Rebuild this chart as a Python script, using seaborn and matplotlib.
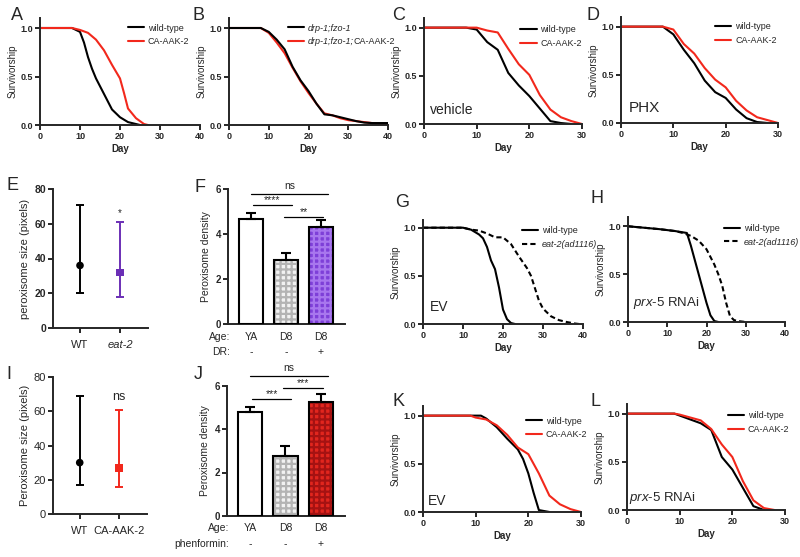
import matplotlib
matplotlib.use('Agg')
import matplotlib.pyplot as plt
import seaborn as sns

sns.set_style('ticks')
plt.rcParams['font.family'] = ['Liberation Sans', 'DejaVu Sans']
plt.rcParams['mathtext.fontset'] = 'custom'
plt.rcParams['mathtext.rm'] = 'Liberation Sans'
plt.rcParams['mathtext.it'] = 'Liberation Sans:italic'
plt.rcParams['axes.linewidth'] = 1.4
plt.rcParams['hatch.linewidth'] = 1.6

RED = '#f2281c'
PURPLE = '#6b2fb6'

# ---- survival data (day, fraction alive) ----
a_wt_day = [0, 8, 10, 11, 12, 13, 14, 16, 18, 20, 22, 24, 25]
a_wt = [1.0, 1.0, 0.96, 0.85, 0.7, 0.58, 0.48, 0.32, 0.16, 0.08, 0.03, 0.01, 0.0]
a_ca_day = [0, 8, 10, 12, 14, 16, 18, 20, 21, 22, 24, 26, 27]
a_ca = [1.0, 1.0, 0.98, 0.95, 0.88, 0.77, 0.62, 0.48, 0.33, 0.17, 0.07, 0.01, 0.0]

b_df_day = [0, 8, 10, 12, 14, 16, 18, 20, 22, 24, 26, 28, 30, 32, 34, 36, 40]
b_df = [1.0, 1.0, 0.96, 0.88, 0.78, 0.6, 0.46, 0.35, 0.22, 0.11, 0.1, 0.08, 0.06, 0.04, 0.025, 0.02, 0.02]
b_dfca_day = [0, 8, 10, 12, 14, 16, 18, 20, 22, 24, 26, 28, 30, 32, 34, 36, 38, 40]
b_dfca = [1.0, 1.0, 0.95, 0.85, 0.74, 0.59, 0.45, 0.33, 0.22, 0.12, 0.1, 0.07, 0.05, 0.04, 0.03, 0.02, 0.01, 0.005]

c_wt_day = [0, 8, 10, 12, 14, 16, 18, 20, 22, 24, 26, 28]
c_wt = [1.0, 1.0, 0.98, 0.85, 0.77, 0.53, 0.4, 0.29, 0.16, 0.03, 0.01, 0.0]
c_ca_day = [0, 10, 12, 14, 16, 18, 20, 22, 24, 26, 28, 30]
c_ca = [1.0, 1.0, 0.97, 0.95, 0.78, 0.62, 0.51, 0.3, 0.15, 0.07, 0.03, 0.0]

d_wt_day = [0, 8, 10, 12, 14, 16, 18, 20, 22, 24, 26, 28]
d_wt = [1.0, 1.0, 0.92, 0.76, 0.62, 0.44, 0.32, 0.26, 0.14, 0.05, 0.01, 0.0]
d_ca_day = [0, 8, 10, 12, 14, 16, 18, 20, 22, 24, 26, 28, 30]
d_ca = [1.0, 1.0, 0.97, 0.82, 0.72, 0.57, 0.45, 0.37, 0.23, 0.13, 0.06, 0.03, 0.0]

g_wt_day = [0, 10, 12, 14, 15, 16, 17, 18, 19, 20, 21, 22, 23]
g_wt = [1.0, 1.0, 0.98, 0.93, 0.89, 0.8, 0.66, 0.57, 0.38, 0.15, 0.05, 0.01, 0.0]
g_eat_day = [0, 10, 12, 14, 16, 18, 20, 22, 24, 26, 27, 28, 29, 30, 32, 34, 36, 38, 39]
g_eat = [1.0, 1.0, 0.98, 0.97, 0.94, 0.9, 0.9, 0.83, 0.7, 0.58, 0.5, 0.37, 0.24, 0.16, 0.08, 0.04, 0.02, 0.005, 0.0]

h_wt_day = [0, 4, 8, 12, 15, 16, 17, 18, 19, 20, 21, 22, 23]
h_wt = [1.0, 0.985, 0.97, 0.95, 0.93, 0.8, 0.65, 0.5, 0.35, 0.2, 0.07, 0.01, 0.0]
h_eat_day = [0, 4, 8, 12, 14, 16, 18, 20, 21, 22, 23, 24, 25, 26, 27, 28, 30]
h_eat = [1.0, 0.985, 0.97, 0.95, 0.93, 0.9, 0.85, 0.76, 0.68, 0.6, 0.5, 0.38, 0.2, 0.06, 0.02, 0.01, 0.0]

k_wt_day = [0, 11, 12, 14, 16, 18, 19, 20, 21, 22, 23, 24]
k_wt = [1.0, 1.0, 0.97, 0.88, 0.76, 0.65, 0.55, 0.4, 0.2, 0.02, 0.01, 0.0]
k_ca_day = [0, 9, 10, 12, 14, 16, 18, 20, 22, 24, 26, 28, 30]
k_ca = [1.0, 1.0, 0.98, 0.96, 0.9, 0.8, 0.67, 0.6, 0.4, 0.17, 0.08, 0.03, 0.0]

l_wt_day = [0, 9, 10, 12, 14, 16, 18, 20, 22, 24, 26]
l_wt = [1.0, 1.0, 0.98, 0.94, 0.9, 0.83, 0.55, 0.42, 0.23, 0.04, 0.0]
l_ca_day = [0, 9, 10, 12, 14, 16, 18, 20, 22, 24, 26, 28]
l_ca = [1.0, 1.0, 0.99, 0.96, 0.93, 0.84, 0.68, 0.55, 0.3, 0.1, 0.02, 0.0]

# ---- peroxisome size (mean with range) ----
e_groups = ['WT', 'eat-2']
e_mean = [36, 32]
e_low = [20, 18]
e_high = [71, 61]

i_groups = ['WT', 'CA-AAK-2']
i_mean = [30, 27]
i_low = [17, 16]
i_high = [69, 61]

# ---- peroxisome density bars ----
f_groups = ['YA', 'D8', 'D8 DR']
f_vals = [4.65, 2.85, 4.3]
f_err = [0.3, 0.3, 0.32]
f_age = ['YA', 'D8', 'D8']
f_treat = ['-', '-', '+']

j_groups = ['YA', 'D8', 'D8 phenformin']
j_vals = [4.78, 2.76, 5.24]
j_err = [0.22, 0.46, 0.36]
j_age = ['YA', 'D8', 'D8']
j_treat = ['-', '-', '+']

W, H = 800, 557
fig = plt.figure(figsize=(8, 5.57), dpi=100)


def make_ax(left, right, top, bottom):
    return fig.add_axes([left / W, 1 - bottom / H, (right - left) / W, (bottom - top) / H])


def style_ax(ax, size=6.5, bold=True):
    sns.despine(ax=ax)
    ax.tick_params(direction='out', length=3.5, width=1.4, labelsize=size, pad=1.5)
    if bold:
        for t in ax.get_xticklabels() + ax.get_yticklabels():
            t.set_fontweight('bold')


def survival(ax, curves, xmax, leg_xy, ymax=1.1):
    for day, surv, lab, col, ls, z in curves:
        sns.lineplot(x=day, y=surv, color=col, linestyle=ls, linewidth=1.5,
                     label=lab, ax=ax, zorder=z)
    ax.set_xlim(0, xmax)
    ax.set_ylim(0, ymax)
    ax.set_xticks(range(0, xmax + 1, 10))
    ax.set_yticks([0, 0.5, 1.0])
    ax.set_yticklabels(['0.0', '0.5', '1.0'])
    ax.set_xlabel('Day', fontsize=7, fontweight='bold', labelpad=2)
    ax.set_ylabel('Survivorship', fontsize=7, labelpad=2)
    leg = ax.legend(loc='upper left', bbox_to_anchor=leg_xy, frameon=False, fontsize=6.5,
                    handlelength=1.8, handletextpad=0.4, labelspacing=0.5,
                    borderpad=0, borderaxespad=0)
    style_ax(ax)
    return leg


def note(ax, x, y, txt, size):
    ax.text(x, y, txt, transform=ax.transAxes, fontsize=size, ha='left', va='bottom')


# A
ax = make_ax(40, 200, 18.3, 125)
survival(ax, [(a_wt_day, a_wt, 'wild-type', 'black', '-', 2),
              (a_ca_day, a_ca, 'CA-AAK-2', RED, '-', 2)], 40, (0.55, 0.95))
# B
ax = make_ax(229, 388, 18.3, 125)
leg = survival(ax, [(b_df_day, b_df, 'drp-1;fzo-1', 'black', '-', 3),
                    (b_dfca_day, b_dfca, 'drp-1;fzo-1;', RED, '-', 2)],
               40, (0.37, 0.95))
for t in leg.get_texts():
    t.set_fontstyle('italic')
ax.annotate('CA-AAK-2', xy=(1, 0), xycoords=leg.get_texts()[1], ha='left', va='bottom',
            fontsize=6.5, zorder=6)
# C
ax = make_ax(424, 582, 18, 124)
survival(ax, [(c_wt_day, c_wt, 'wild-type', 'black', '-', 2),
              (c_ca_day, c_ca, 'CA-AAK-2', RED, '-', 2)], 30, (0.61, 0.93))
note(ax, 0.04, 0.07, 'vehicle', 10)
# D
ax = make_ax(621, 778, 17, 123)
survival(ax, [(d_wt_day, d_wt, 'wild-type', 'black', '-', 2),
              (d_ca_day, d_ca, 'CA-AAK-2', RED, '-', 2)], 30, (0.6, 0.95))
note(ax, 0.05, 0.075, 'PHX', 11)
# G
ax = make_ax(423, 583, 220, 324)
leg = survival(ax, [(g_wt_day, g_wt, 'wild-type', 'black', '-', 2),
                    (g_eat_day, g_eat, 'eat-2(ad1116)', 'black', (0, (2.5, 1.5)), 2)],
               40, (0.62, 0.94), ymax=1.08)
leg.get_texts()[1].set_fontstyle('italic')
note(ax, 0.04, 0.1, 'EV', 10)
# H
ax = make_ax(628, 785, 216.7, 322)
leg = survival(ax, [(h_wt_day, h_wt, 'wild-type', 'black', '-', 2),
                    (h_eat_day, h_eat, 'eat-2(ad1116)', 'black', (0, (2.5, 1.5)), 2)],
               40, (0.61, 0.93))
leg.get_texts()[1].set_fontstyle('italic')
note(ax, 0.03, 0.1, r'$\mathit{prx}$-$\mathit{5}$ RNAi', 9.5)
# K
ax = make_ax(423, 581, 406, 512)
survival(ax, [(k_wt_day, k_wt, 'wild-type', 'black', '-', 2),
              (k_ca_day, k_ca, 'CA-AAK-2', RED, '-', 2)], 30, (0.65, 0.9))
note(ax, 0.03, 0.04, 'EV', 10)
# L
ax = make_ax(627, 785, 404, 510)
survival(ax, [(l_wt_day, l_wt, 'wild-type', 'black', '-', 2),
              (l_ca_day, l_ca, 'CA-AAK-2', RED, '-', 2)], 30, (0.64, 0.93))
note(ax, 0.01, 0.04, r'$\mathit{prx}$-$\mathit{5}$ RNAi', 9.5)


def size_panel(ax, groups, mean, low, high, colors, ylabel, tick_size, bold, star, star_y, star_size):
    n = len(groups)
    for i in range(n):
        ax.errorbar(i, mean[i], yerr=[[mean[i] - low[i]], [high[i] - mean[i]]], fmt='none',
                    ecolor=colors[i], elinewidth=1.4, capsize=3.2, capthick=1.4)
    sns.scatterplot(x=list(range(n)), y=mean, hue=groups, style=groups, palette=colors,
                    markers=['o', 's'], s=30, linewidth=0, legend=False, ax=ax, zorder=3)
    ax.text(1, star_y, star, ha='center', va='bottom', fontsize=star_size)
    ax.set_xlim(-0.675, 1.7)
    ax.set_ylim(0, 80)
    ax.set_yticks([0, 20, 40, 60, 80])
    ax.set_xticks(range(n))
    ax.set_xticklabels(groups)
    ax.set_ylabel(ylabel, fontsize=8, labelpad=3)
    style_ax(ax, tick_size, bold)
    for t in ax.get_xticklabels():
        t.set_fontsize(8)
        t.set_fontweight('normal')
    ax.tick_params(axis='x', pad=5)


# E
ax = make_ax(53, 148, 189, 328)
size_panel(ax, e_groups, e_mean, e_low, e_high, ['black', PURPLE],
           'peroxisome size (pixels)', 7.5, True, '*', 63, 7)
ax.get_xticklabels()[1].set_fontstyle('italic')
# I
ax = make_ax(53, 147, 377, 514)
size_panel(ax, i_groups, i_mean, i_low, i_high, ['black', RED],
           'Peroxisome size (pixels)', 8, False, 'ns', 65, 9)


def bar_panel(ax, groups, vals, errs, faces, hatches, age, treat, treat_name, row_y, sigs, top, bottom):
    n = len(groups)
    sns.barplot(x=groups, y=vals, hue=groups, palette=faces, width=0.69, saturation=1,
                legend=False, ax=ax, linewidth=0, errorbar=None)
    for patch, hc in zip(ax.patches, hatches):
        if hc:
            patch.set_hatch('+++')
            patch.set_edgecolor(hc)
    ax.errorbar(range(n), vals, yerr=[[0] * n, errs], fmt='none', ecolor='black',
                elinewidth=1.5, capsize=3.8, capthick=1.5, zorder=2.5)
    ax.bar(range(n), vals, width=0.69, fill=False, edgecolor='black', linewidth=1.5, zorder=3)
    for x0, x1, y, txt, off in sigs:
        ax.plot([x0, x1], [y, y], color='black', lw=0.9, clip_on=False)
        ax.text((x0 + x1) / 2, y + off, txt, ha='center', va='bottom', fontsize=7.5, clip_on=False)
    ax.set_xlim(-0.66, 2.69)
    ax.set_ylim(0, 6)
    ax.set_yticks([0, 2, 4, 6])
    ax.set_xticks([])
    ax.set_xlabel('')
    ax.set_ylabel('Peroxisome density', fontsize=7.5, labelpad=3)
    style_ax(ax, 7)
    tr = ax.get_xaxis_transform()
    ya = (bottom - row_y[0]) / (bottom - top)
    yb = (bottom - row_y[1]) / (bottom - top)
    ax.text(-0.6, ya, 'Age:', transform=tr, ha='right', va='center', fontsize=7.5, clip_on=False)
    ax.text(-0.6, yb, treat_name, transform=tr, ha='right', va='center', fontsize=7.5, clip_on=False)
    for i in range(n):
        ax.text(i, ya, age[i], transform=tr, ha='center', va='center', fontsize=7.5)
        ax.text(i, yb, treat[i], transform=tr, ha='center', va='center', fontsize=7.5)


# F
ax = make_ax(228, 345, 189, 324)
bar_panel(ax, f_groups, f_vals, f_err, ['white', '#f2f2f2', '#7e3fd8'], [None, '#b4b4b4', '#a877ee'],
          f_age, f_treat, 'DR:', (337, 352),
          [(0.0, 2.2, 5.78, 'ns', 0.12), (0.06, 1.17, 5.29, '****', -0.02), (0.94, 2.06, 4.76, '**', -0.02)],
          189, 324)
# J
ax = make_ax(227, 345, 385.5, 516)
bar_panel(ax, j_groups, j_vals, j_err, ['white', '#f2f2f2', '#e2261e'], [None, '#b4b4b4', '#a51212'],
          j_age, j_treat, 'phenformin:', (528, 544),
          [(0.0, 2.2, 6.45, 'ns', 0.12), (0.06, 1.17, 5.4, '***', -0.02), (0.94, 2.06, 5.9, '***', -0.02)],
          385.5, 516)

# panel letters
for letter, x, y in [('A', 11, 7), ('B', 193, 7), ('C', 392, 7), ('D', 587, 7),
                     ('E', 6, 177), ('F', 194, 179), ('G', 395, 194), ('H', 590, 190),
                     ('I', 6, 366), ('J', 194, 366), ('K', 392, 393), ('L', 590, 393)]:
    fig.text(x / W, 1 - y / H, letter, fontsize=13, ha='left', va='top')

fig.savefig('out.png', dpi=100)
